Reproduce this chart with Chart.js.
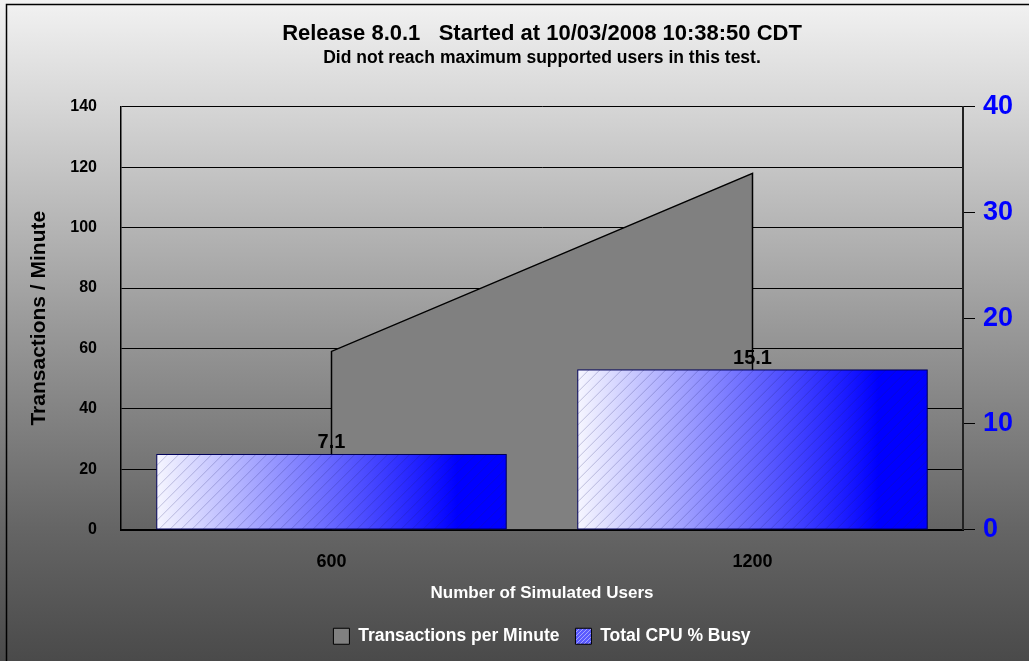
<!DOCTYPE html>
<html>
<head>
<meta charset="utf-8">
<script src="https://cdn.jsdelivr.net/npm/chart.js@4.4.1/dist/chart.umd.min.js"></script>
<style>
    html, body { margin: 0; padding: 0; background: #4a4a4a; }
    #wrap { width: 1029px; height: 661px; }
</style>
</head>
<body>
<div id="wrap"><canvas id="chart"></canvas></div>
<script>
// ===== DADOS =====
const userLabels   = ['600', '1200'];
const userCounts   = [600, 1200];
const txPerMinute  = [59, 118];
const cpuBusy      = [7.1, 15.1];
const txTicks      = [0, 20, 40, 60, 80, 100, 120, 140];
const cpuTicks     = [0, 10, 20, 30, 40];

const BAR_FRACTION = 0.83;

Chart.defaults.font.family = "'Liberation Sans', Arial, sans-serif";
Chart.defaults.font.weight = 'bold';

// area: baseline -> values -> baseline, so the vertical edges are stroked too
const areaPoints = [
    { x: userCounts[0], y: 0 },
    ...userCounts.map((u, i) => ({ x: u, y: txPerMinute[i] })),
    { x: userCounts[userCounts.length - 1], y: 0 }
];

// ===== ESTILOS =====
function barGradient(ctx) {
    const chart = ctx.chart;
    const xs = chart.scales.x;
    if (!xs || !chart.chartArea) return '#6060ff';
    const center = xs.getPixelForValue(ctx.dataIndex);
    const half = xs.width / userLabels.length * BAR_FRACTION / 2;
    const g = chart.ctx.createLinearGradient(center - half, 0, center + half, 0);
    g.addColorStop(0, '#f6f6ff');
    g.addColorStop(0.86, '#0000ff');
    g.addColorStop(1, '#0000ff');
    return g;
}

function legendSwatch() {
    const c = document.createElement('canvas');
    c.width = 8; c.height = 8;
    const x = c.getContext('2d');
    x.fillStyle = '#5a5aff';
    x.fillRect(0, 0, 8, 8);
    x.strokeStyle = 'rgba(255,255,255,0.45)';
    x.lineWidth = 1;
    for (let k = -8; k <= 8; k += 4) {
        x.beginPath(); x.moveTo(k, 8); x.lineTo(k + 8, 0); x.stroke();
    }
    return x.createPattern(c, 'repeat');
}

// ===== PLUGINS =====
const backdrop = {
    id: 'backdrop',
    beforeDraw(chart) {
        const { ctx, width, height } = chart;
        const g = ctx.createLinearGradient(0, 0, 0, height);
        g.addColorStop(0, '#f2f2f2');
        g.addColorStop(0.16, '#d6d6d6');
        g.addColorStop(0.5, '#989898');
        g.addColorStop(0.8, '#656565');
        g.addColorStop(1, '#4a4a4a');
        ctx.save();
        ctx.fillStyle = g;
        ctx.fillRect(0, 0, width, height);
        ctx.strokeStyle = '#000';
        ctx.lineWidth = 1.5;
        ctx.beginPath();
        ctx.moveTo(6.5, height);
        ctx.lineTo(6.5, 4.5);
        ctx.lineTo(width, 4.5);
        ctx.stroke();
        ctx.restore();
    }
};

const barDecor = {
    id: 'barDecor',
    afterDatasetsDraw(chart) {
        const ctx = chart.ctx;
        const meta = chart.getDatasetMeta(1);
        meta.data.forEach((el, i) => {
            const { x, y, base, width } = el.getProps(['x', 'y', 'base', 'width'], true);
            const left = x - width / 2;
            const h = base - y;
            ctx.save();
            ctx.beginPath();
            ctx.rect(left, y, width, h);
            ctx.clip();
            ctx.strokeStyle = 'rgba(30,30,110,0.3)';
            ctx.lineWidth = 0.8;
            for (let k = -h; k < width; k += 11) {
                ctx.beginPath();
                ctx.moveTo(left + k, base);
                ctx.lineTo(left + k + h, y);
                ctx.stroke();
            }
            ctx.restore();

            ctx.save();
            ctx.strokeStyle = '#00005a';
            ctx.lineWidth = 1;
            ctx.strokeRect(left, y, width, h);
            ctx.fillStyle = '#000';
            ctx.font = "bold 20px 'Liberation Sans', Arial, sans-serif";
            ctx.textAlign = 'center';
            ctx.textBaseline = 'alphabetic';
            ctx.fillText(cpuBusy[i].toFixed(1), x, y - 6);
            ctx.restore();
        });
    }
};

// ===== GRÁFICO =====
new Chart(document.getElementById('chart'), {
    type: 'bar',
    data: {
        labels: userLabels,
        datasets: [
            {
                type: 'line',
                label: 'Transactions per Minute',
                data: areaPoints,
                xAxisID: 'xLine',
                yAxisID: 'y',
                borderColor: '#000',
                borderWidth: 1.5,
                backgroundColor: '#808080',
                fill: 'origin',
                pointRadius: 0,
                tension: 0,
                order: 2,
            },
            {
                label: 'Total CPU % Busy',
                data: cpuBusy,
                xAxisID: 'x',
                yAxisID: 'y2',
                backgroundColor: barGradient,
                borderWidth: 0,
                grouped: false,
                categoryPercentage: BAR_FRACTION,
                barPercentage: 1,
                order: 1,
            }
        ]
    },
    options: {
        responsive: true,
        maintainAspectRatio: false,
        animation: false,
        layout: { padding: { left: 6, right: 0, top: 0, bottom: 6 } },
        plugins: {
            title: {
                display: true,
                fullSize: false,
                text: 'Release 8.0.1   Started at 10/03/2008 10:38:50 CDT',
                color: '#000',
                font: { size: 22, weight: 'bold' },
                padding: { top: 21, bottom: 0 }
            },
            subtitle: {
                display: true,
                fullSize: false,
                text: 'Did not reach maximum supported users in this test.',
                color: '#000',
                font: { size: 17.5, weight: 'bold' },
                padding: { top: 0, bottom: 38.5 }
            },
            legend: {
                position: 'bottom',
                fullSize: false,
                labels: {
                    color: '#fff',
                    font: { size: 17.5, weight: 'bold' },
                    boxWidth: 16,
                    boxHeight: 16,
                    padding: 16,
                    generateLabels(chart) {
                        const ds = chart.data.datasets;
                        return [
                            { text: ds[0].label, fillStyle: '#808080', strokeStyle: '#000', lineWidth: 1, fontColor: '#fff', datasetIndex: 0 },
                            { text: ds[1].label, fillStyle: legendSwatch(), strokeStyle: '#000', lineWidth: 1, fontColor: '#fff', datasetIndex: 1 }
                        ];
                    }
                }
            },
            tooltip: { enabled: false }
        },
        scales: {
            x: {
                type: 'category',
                position: 'bottom',
                offset: true,
                grid: { display: false, drawTicks: false },
                border: { display: true, color: '#000', width: 2 },
                ticks: { color: '#000', font: { size: 18, weight: 'bold' }, padding: 22 },
                title: {
                    display: true,
                    text: 'Number of Simulated Users',
                    color: '#fff',
                    font: { size: 17, weight: 'bold' },
                    padding: { top: 4, bottom: 8 }
                },
                afterFit(scale) { scale.height = 82; }
            },
            xLine: {
                type: 'linear',
                display: false,
                offset: false,
                grid: { offset: false },
                min: userCounts[0] / 2,
                max: userCounts[userCounts.length - 1] + userCounts[0] / 2
            },
            y: {
                position: 'left',
                min: txTicks[0],
                max: txTicks[txTicks.length - 1],
                ticks: { stepSize: txTicks[1] - txTicks[0], color: '#000', font: { size: 16, weight: 'bold' }, padding: 24 },
                grid: { color: '#000', lineWidth: 1, drawTicks: false },
                border: { color: '#000', width: 1.5 },
                title: {
                    display: true,
                    text: 'Transactions / Minute',
                    color: '#000',
                    font: { size: 21, weight: 'bold' },
                    padding: { top: 21, bottom: 0 }
                },
                afterFit(scale) { scale.width = 115; }
            },
            y2: {
                position: 'right',
                min: cpuTicks[0],
                max: cpuTicks[cpuTicks.length - 1],
                ticks: { stepSize: cpuTicks[1] - cpuTicks[0], color: '#0000ff', font: { size: 27, weight: 'bold' }, padding: 8 },
                grid: { drawOnChartArea: false, drawTicks: true, tickLength: 12, color: '#000', lineWidth: 1 },
                border: { color: '#222', width: 2 },
                afterFit(scale) { scale.width = 66; }
            }
        }
    },
    plugins: [backdrop, barDecor]
});
</script>
</body>
</html>
